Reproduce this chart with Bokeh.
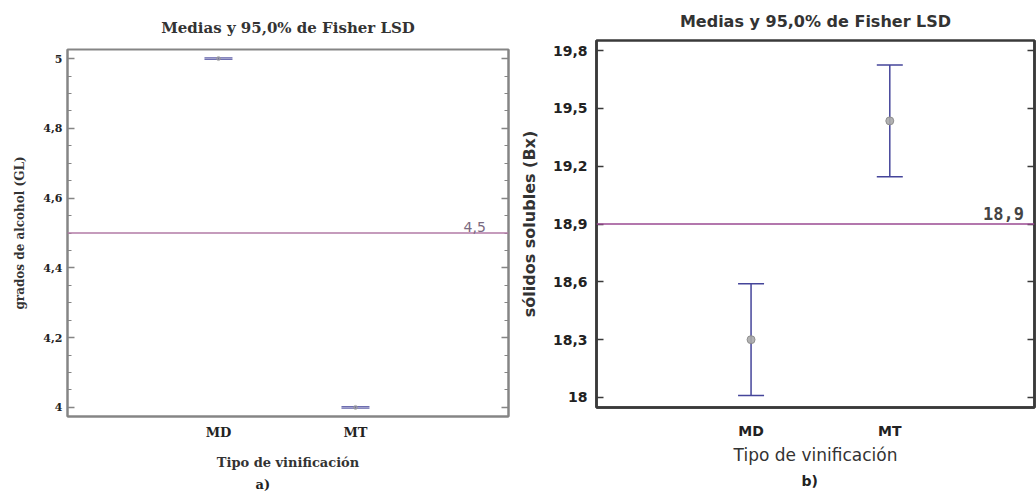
from bokeh.plotting import figure
from bokeh.models import (Range1d, FixedTicker, LinearAxis, Span, Label, Whisker, Title,
                          ColumnDataSource, CustomJSTickFormatter, TeeHead)
from bokeh.layouts import row, column
from bokeh.embed import file_html
from bokeh.resources import INLINE

# ---------------- data ----------------
categories = ["MD", "MT"]

alcohol_mean = [5.0, 4.0]
alcohol_lower = [4.998, 3.998]
alcohol_upper = [5.002, 4.002]
alcohol_grand_mean = 4.5
alcohol_ticks = [4.0, 4.2, 4.4, 4.6, 4.8, 5.0]

solidos_mean = [18.30, 19.435]
solidos_lower = [18.01, 19.145]
solidos_upper = [18.59, 19.725]
solidos_grand_mean = 18.9
solidos_ticks = [18.0, 18.3, 18.6, 18.9, 19.2, 19.5, 19.8]

title_text = "Medias y 95,0% de Fisher LSD"
x_label = "Tipo de vinificación"
ylabel_a = "grados de alcohol (GL)"
ylabel_b = "sólidos solubles (Bx)"

# --------------------------------------
xpos = [i + 1 for i in range(len(categories))]
x_over = {x: c for x, c in zip(xpos, categories)}
comma_fmt = CustomJSTickFormatter(code="return (Math.round(tick*10)/10).toString().replace('.', ',');")

ERR_COLOR = "#45459a"


def style_axes(p, yticks, minor, font, tick_size, axis_color, axis_w, std_y, std_x):
    p.xgrid.visible = False
    p.ygrid.visible = False
    xa = p.xaxis[0]
    xa.ticker = FixedTicker(ticks=xpos)
    xa.major_label_overrides = x_over
    xa.major_tick_in = 0
    xa.major_tick_out = 0
    xa.minor_tick_line_color = None
    xa.axis_line_color = axis_color
    xa.axis_line_width = axis_w
    xa.major_label_text_font = font
    xa.major_label_text_font_size = tick_size
    xa.major_label_text_font_style = "bold"
    xa.major_label_text_color = "#222222"
    xa.major_label_standoff = std_x

    ya = p.yaxis[0]
    ya.ticker = FixedTicker(ticks=yticks, minor_ticks=minor)
    ya.formatter = comma_fmt
    ya.major_tick_in = 7
    ya.major_tick_out = 0
    ya.minor_tick_in = 4
    ya.minor_tick_out = 0
    ya.axis_line_color = axis_color
    ya.axis_line_width = axis_w
    ya.major_tick_line_color = axis_color
    ya.minor_tick_line_color = axis_color
    ya.major_tick_line_width = 1.5
    ya.major_label_text_font = font
    ya.major_label_text_font_size = tick_size
    ya.major_label_text_font_style = "bold"
    ya.major_label_text_color = "#222222"
    ya.major_label_standoff = std_y

    ra = LinearAxis(ticker=FixedTicker(ticks=yticks, minor_ticks=minor),
                    major_label_text_color=None, major_label_standoff=0,
                    major_tick_in=7, major_tick_out=0, minor_tick_in=4, minor_tick_out=0,
                    axis_line_color=axis_color, axis_line_width=axis_w,
                    major_tick_line_color=axis_color, minor_tick_line_color=axis_color,
                    major_tick_line_width=1.5)
    p.add_layout(ra, "right")


# ---------------- panel a ----------------
SERIF = "DejaVu Serif"
src_a = ColumnDataSource(dict(x=xpos, mean=alcohol_mean, lower=alcohol_lower, upper=alcohol_upper))
pa = figure(width=516, height=497, x_range=Range1d(-0.102, 3.117), y_range=Range1d(3.974, 5.026),
            output_backend="svg", toolbar_location=None,
            min_border_left=67, min_border_right=8, min_border_top=49, min_border_bottom=81)
pa.outline_line_color = "#858585"
pa.outline_line_width = 2
pa.title.text = title_text
pa.title.align = "center"
pa.title.text_font = SERIF
pa.title.text_font_size = "15px"
pa.title.text_font_style = "bold"
pa.title.text_color = "#333333"
pa.title.standoff = 26
minor_a = [round(4.0 + 0.05 * i, 2) for i in range(21)]
style_axes(pa, alcohol_ticks, minor_a, SERIF, "11px", "#858585", 2, 5, 8)
pa.xaxis[0].major_label_text_font_size = "13px"
pa.xaxis.axis_label = x_label
pa.xaxis.axis_label_text_font = SERIF
pa.xaxis.axis_label_text_font_size = "13px"
pa.xaxis.axis_label_text_font_style = "bold"
pa.xaxis.axis_label_text_color = "#333333"
pa.xaxis.axis_label_standoff = 12
pa.yaxis[0].axis_label = ylabel_a
pa.yaxis[0].axis_label_text_font = SERIF
pa.yaxis[0].axis_label_text_font_size = "12px"
pa.yaxis[0].axis_label_text_font_style = "bold"
pa.yaxis[0].axis_label_text_color = "#333333"
pa.yaxis[0].axis_label_standoff = 13

pa.add_layout(Span(location=alcohol_grand_mean, dimension="width", line_color="#b27aa6", line_width=1.5))
pa.add_layout(Label(x=2.87, y=alcohol_grand_mean, text="4,5", text_align="center", text_baseline="bottom",
                    y_offset=1, text_font="DejaVu Sans", text_font_size="14px", text_color="#7a6a80"))
pa.add_layout(Whisker(source=src_a, base="x", upper="upper", lower="lower", dimension="height",
                      line_color=ERR_COLOR, line_width=1,
                      upper_head=TeeHead(size=28, line_color=ERR_COLOR, line_width=1),
                      lower_head=TeeHead(size=28, line_color=ERR_COLOR, line_width=1)))
pa.scatter(x="x", y="mean", source=src_a, size=4, color="#999999", alpha=0.6)
pa.add_layout(Title(text="a)", align="left", offset=188, standoff=5, text_font=SERIF,
                    text_font_size="13px", text_font_style="bold", text_color="#222222"), "below")

# ---------------- panel b ----------------
SANS = "DejaVu Sans"
src_b = ColumnDataSource(dict(x=xpos, mean=solidos_mean, lower=solidos_lower, upper=solidos_upper))
pb = figure(width=520, height=497, x_range=Range1d(-0.114, 3.043), y_range=Range1d(17.948, 19.852),
            output_backend="svg", toolbar_location=None,
            min_border_left=76, min_border_right=2, min_border_top=39, min_border_bottom=90)
pb.outline_line_color = "#3a3a3a"
pb.outline_line_width = 2.5
pb.title.text = title_text
pb.title.align = "center"
pb.title.text_font = SANS
pb.title.text_font_size = "16px"
pb.title.text_font_style = "bold"
pb.title.text_color = "#333333"
pb.title.standoff = 19
style_axes(pb, solidos_ticks, [], SANS, "14px", "#3a3a3a", 2.5, 9, 15)
pb.xaxis.axis_label = x_label
pb.xaxis.axis_label_text_font = SANS
pb.xaxis.axis_label_text_font_size = "17px"
pb.xaxis.axis_label_text_font_style = "normal"
pb.xaxis.axis_label_text_color = "#333333"
pb.xaxis.axis_label_standoff = 3
pb.yaxis[0].axis_label = ylabel_b
pb.yaxis[0].axis_label_text_font = SANS
pb.yaxis[0].axis_label_text_font_size = "16px"
pb.yaxis[0].axis_label_text_font_style = "bold"
pb.yaxis[0].axis_label_text_color = "#333333"
pb.yaxis[0].axis_label_standoff = 11

pb.add_layout(Span(location=solidos_grand_mean, dimension="width", line_color="#9a4a92", line_width=1.5))
pb.add_layout(Label(x=2.82, y=solidos_grand_mean, text="18,9", text_align="center", text_baseline="bottom",
                    y_offset=4, text_font="DejaVu Sans Mono", text_font_size="17px", text_font_style="bold",
                    text_color="#444444"))
pb.add_layout(Whisker(source=src_b, base="x", upper="upper", lower="lower", dimension="height",
                      line_color=ERR_COLOR, line_width=1.5,
                      upper_head=TeeHead(size=26, line_color=ERR_COLOR, line_width=1.5),
                      lower_head=TeeHead(size=26, line_color=ERR_COLOR, line_width=1.5)))
pb.scatter(x="x", y="mean", source=src_b, marker="circle", size=8, fill_color="#aaaaaa",
           line_color="#888888", alpha=0.9)
pb.add_layout(Title(text="b)", align="left", offset=205, standoff=6, text_font=SANS,
                    text_font_size="14px", text_font_style="bold", text_color="#222222"), "below")

layout = row(column(pa), column(pb))
open("out.html", "w").write(file_html(layout, INLINE))
